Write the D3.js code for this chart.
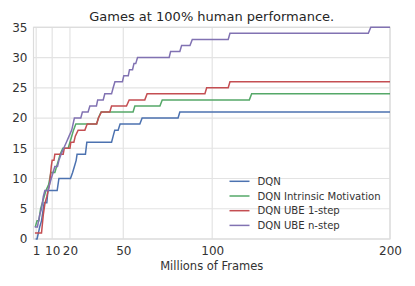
<!DOCTYPE html>
<html>
<head>
<meta charset="utf-8">
<script src="https://cdn.jsdelivr.net/npm/d3@7"></script>
<style>
  body { margin: 0; background: #fff; }
  text { font-family: "DejaVu Sans", sans-serif; fill: #262626; }
</style>
</head>
<body>
<div id="chart"></div>
<script>
// series data: [millions of frames, games at 100% human performance]
var dqn = [[0.7,0],[1.5,0],[3,2],[4,3],[5,5],[5.5,6],[7,6],[7.6,8],[12.8,8],[13.8,10],[20.3,10],[21.5,11],[22.5,12],[23.5,13],[24,14],[28.7,14],[29.5,16],[43.4,16],[44.3,17],[45.2,18],[47.1,18],[48.2,19],[59.3,19],[60.6,20],[80.8,20],[81.8,21],[200,21]];
var intrinsic = [[0.5,2],[1.5,3],[2.5,3],[3.5,5],[4.5,6],[5.5,7],[6.5,8],[8,9],[9.3,11],[11.5,11],[12.5,12],[13.5,13],[14.5,14],[16,15],[19,15],[20,16],[21,17],[22,18],[23.3,19],[35,19],[36,20],[37.5,21],[55.5,21],[56.5,22],[70.6,22],[71.9,23],[120.9,23],[122.2,24],[200,24]];
var ube1 = [[0.3,1],[4,1],[5,4],[6,6],[7,7],[8.5,9],[9.5,12],[10,13],[11,13],[11.5,14],[16.2,14],[16.8,15],[20,15],[20.5,16],[22.2,16],[23,17],[24.6,18],[28.4,18],[29.7,19],[35,19],[36,20],[37.7,21],[42.4,21],[43.4,22],[51.8,22],[53.3,23],[62.1,23],[63.4,24],[95.9,24],[96.9,25],[109,25],[110,26],[200,26]];
var uben = [[0.2,2],[1.7,2],[3,4],[4,5],[5,7],[5.9,8],[7.7,8],[8.5,9],[9.5,10],[10.5,11],[11.5,12],[13,12],[13.8,13],[15,14],[16.5,15],[18,16],[19.5,17],[21,18],[22.5,20],[26.1,20],[27,21],[30.2,21],[31.2,22],[34.9,22],[35.6,23],[38.7,23],[39.6,24],[43.4,24],[44.3,25],[45.3,26],[49.5,26],[50.3,27],[52.8,27],[53.5,28],[55.2,28],[56,29],[57,29],[58,30],[75.8,30],[76.6,31],[81.8,31],[82.8,32],[87.5,32],[88.8,33],[109,33],[110,34],[187.8,34],[189.2,35],[200,35]];

var seriesNames = ["DQN", "DQN Intrinsic Motivation", "DQN UBE 1-step", "DQN UBE n-step"];
var seriesData = [dqn, intrinsic, ube1, uben];
var xTicks = [1, 10, 20, 50, 100, 200];
var yTicks = [0, 5, 10, 15, 20, 25, 30, 35];

var W = 415, H = 286;
var margin = { top: 27.3, right: 25, bottom: 47, left: 33.5 },
  width = W - margin.left - margin.right,
  height = H - margin.top - margin.bottom;

var svg = d3.select("#chart")
  .append("svg")
  .attr("width", W)
  .attr("height", H)
  .append("g")
  .attr("transform", "translate(" + margin.left + "," + margin.top + ")");

var x = d3.scaleLinear().domain([-0.5, 200]).range([0, width]);
var y = d3.scaleLinear().domain([0, 35]).range([height, 0]);

var color = d3.scaleOrdinal()
  .domain(seriesNames)
  .range(["#4C72B0", "#55A868", "#C44E52", "#8172B2"]);

// grid lines
svg.append("g")
  .selectAll("line.h")
  .data(yTicks)
  .enter().append("line")
  .attr("x1", 0).attr("x2", width)
  .attr("y1", function (d) { return y(d); })
  .attr("y2", function (d) { return y(d); })
  .style("stroke", "#e3e3e3").style("stroke-width", 1.2);
svg.append("g")
  .selectAll("line.v")
  .data(xTicks)
  .enter().append("line")
  .attr("y1", 0).attr("y2", height)
  .attr("x1", function (d) { return x(d); })
  .attr("x2", function (d) { return x(d); })
  .style("stroke", "#e3e3e3").style("stroke-width", 1.2);

// frame
svg.append("rect")
  .attr("width", width).attr("height", height)
  .style("fill", "none").style("stroke", "#dcdcdc").style("stroke-width", 1.2);

// axes (labels only)
var xAxis = svg.append("g")
  .attr("transform", "translate(0," + height + ")")
  .call(d3.axisBottom(x).tickValues(xTicks).tickSize(0).tickPadding(7));
var yAxis = svg.append("g")
  .call(d3.axisLeft(y).tickValues(yTicks).tickSize(0).tickPadding(6));
[xAxis, yAxis].forEach(function (a) {
  a.select(".domain").remove();
  a.selectAll("text").style("font-size", "12px").style("fill", "#333")
    .style("font-family", "'DejaVu Sans', sans-serif");
});

// lines
var line = d3.line()
  .x(function (d) { return x(d[0]); })
  .y(function (d) { return y(d[1]); });

svg.append("g")
  .selectAll("path")
  .data(seriesData)
  .enter().append("path")
  .attr("d", line)
  .style("fill", "none")
  .style("stroke", function (d, i) { return color(seriesNames[i]); })
  .style("stroke-width", 1.5);

// title and axis label
svg.append("text")
  .attr("x", width / 2).attr("y", -6)
  .attr("text-anchor", "middle")
  .style("font-size", "13px")
  .text("Games at 100% human performance.");
svg.append("text")
  .attr("x", width / 2).attr("y", height + 31)
  .attr("text-anchor", "middle")
  .style("font-size", "11.5px")
  .style("fill", "#333")
  .text("Millions of Frames");

// handmade legend
var legend = svg.append("g").attr("transform", "translate(196,154)");
seriesNames.forEach(function (name, i) {
  legend.append("line")
    .attr("x1", 0).attr("x2", 20)
    .attr("y1", i * 14.7).attr("y2", i * 14.7)
    .style("stroke", color(name)).style("stroke-width", 1.5);
  legend.append("text")
    .attr("x", 28).attr("y", i * 14.7)
    .attr("dy", "0.35em")
    .style("font-size", "10.1px")
    .style("fill", "#333")
    .text(name);
});
</script>
</body>
</html>
